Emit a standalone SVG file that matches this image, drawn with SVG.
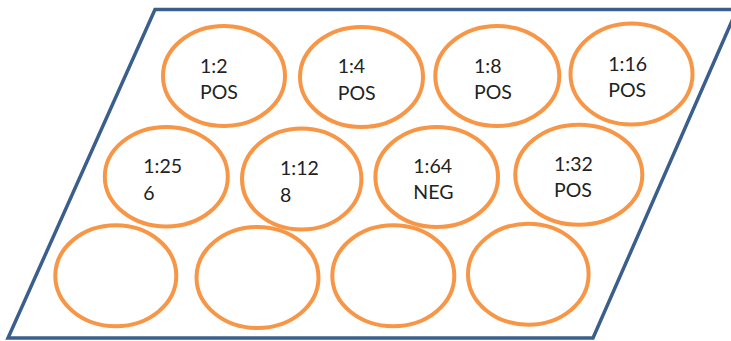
<svg xmlns="http://www.w3.org/2000/svg" width="731" height="341" viewBox="0 0 731 341">
<style>
.well{fill:none;stroke:#F79646;stroke-width:4}
.t{font-family:Lato,"Open Sans",sans-serif;font-size:19.5px;fill:#222}
</style>
<rect width="731" height="341" fill="#fff"/>
<polygon points="155,9.5 737,9.5 593,338 8,338" fill="none" stroke="#3B5F8D" stroke-width="3.5" stroke-linejoin="miter"/>
<g id="w1"><ellipse class="well" cx="224" cy="76" rx="61" ry="50"/><text class="t" x="200" y="72.7">1:2</text><text class="t" x="200" y="99.3">POS</text></g>
<g id="w2"><ellipse class="well" cx="361.5" cy="77" rx="61.5" ry="50"/><text class="t" x="337.7" y="73.3">1:4</text><text class="t" x="337.7" y="100">POS</text></g>
<g id="w3"><ellipse class="well" cx="497.3" cy="76" rx="62" ry="50"/><text class="t" x="474" y="72.7">1:8</text><text class="t" x="474" y="99">POS</text></g>
<g id="w4"><ellipse class="well" cx="631.5" cy="74" rx="61" ry="50.5"/><text class="t" x="608.3" y="71">1:16</text><text class="t" x="608.3" y="96.7">POS</text></g>
<g id="w5"><ellipse class="well" cx="166.3" cy="176.7" rx="61.5" ry="49.7"/><text class="t" x="143.3" y="173.3">1:25</text><text class="t" x="143.3" y="200">6</text></g>
<g id="w6"><ellipse class="well" cx="301.7" cy="179" rx="59.7" ry="50.5"/><text class="t" x="280" y="175">1:12</text><text class="t" x="280" y="201.7">8</text></g>
<g id="w7"><ellipse class="well" cx="436.7" cy="177" rx="61.3" ry="50"/><text class="t" x="413.3" y="173.3">1:64</text><text class="t" x="413.3" y="199.3">NEG</text></g>
<g id="w8"><ellipse class="well" cx="578.8" cy="174.7" rx="63.5" ry="50"/><text class="t" x="554" y="170.7">1:32</text><text class="t" x="554" y="197.3">POS</text></g>
<g id="w9"><ellipse class="well" cx="115.8" cy="275.8" rx="60.5" ry="50.5"/></g>
<g id="w10"><ellipse class="well" cx="257.5" cy="277.5" rx="61" ry="50.5"/></g>
<g id="w11"><ellipse class="well" cx="393.3" cy="275.8" rx="61" ry="50.5"/></g>
<g id="w12"><ellipse class="well" cx="528.3" cy="274.2" rx="60.3" ry="50.5"/></g>
<g id="connectors"></g>
</svg>
